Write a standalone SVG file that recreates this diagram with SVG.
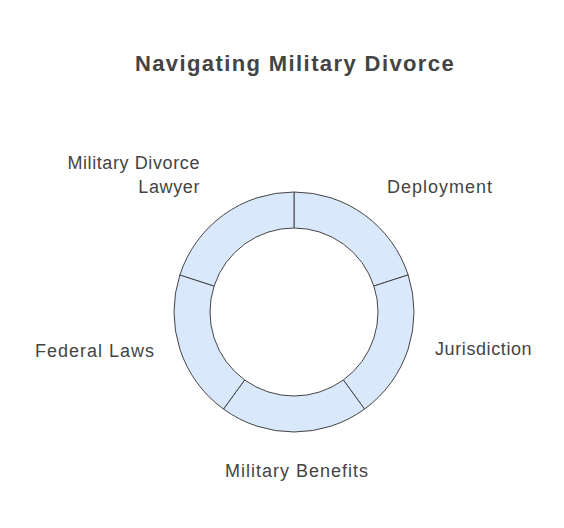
<svg xmlns="http://www.w3.org/2000/svg" width="564" height="528" viewBox="0 0 564 528">
<style>
.seg{fill:#dae8fc;stroke:#444444;stroke-width:1}
.lbl{font-family:"Liberation Sans",Arial,sans-serif;font-size:18px;letter-spacing:0.8px;fill:#444444}
.title{font-family:"Liberation Sans",Arial,sans-serif;font-size:22px;letter-spacing:1.4px;font-weight:bold;fill:#444444}
</style>
<rect width="564" height="528" fill="#ffffff"/>
<text class="title" x="295" y="71" text-anchor="middle">Navigating Military Divorce</text>
<g id="deployment">
<path class="seg" d="M294,192 A120,120 0 0 1 408.127,274.918 L373.889,286.042 A84,84 0 0 0 294,228 Z"/>
<text class="lbl" x="387" y="193" style="letter-spacing:1px">Deployment</text>
</g>
<g id="jurisdiction">
<path class="seg" d="M408.127,274.918 A120,120 0 0 1 364.534,409.082 L343.374,379.958 A84,84 0 0 0 373.889,286.042 Z"/>
<text class="lbl" x="435" y="355" style="letter-spacing:0.6px">Jurisdiction</text>
</g>
<g id="military-benefits">
<path class="seg" d="M364.534,409.082 A120,120 0 0 1 223.466,409.082 L244.626,379.958 A84,84 0 0 0 343.374,379.958 Z"/>
<text class="lbl" x="297" y="477" text-anchor="middle" style="letter-spacing:1px">Military Benefits</text>
</g>
<g id="federal-laws">
<path class="seg" d="M223.466,409.082 A120,120 0 0 1 179.873,274.918 L214.111,286.042 A84,84 0 0 0 244.626,379.958 Z"/>
<text class="lbl" x="155" y="357" text-anchor="end" style="letter-spacing:1px">Federal Laws</text>
</g>
<g id="military-divorce-lawyer">
<path class="seg" d="M179.873,274.918 A120,120 0 0 1 294,192 L294,228 A84,84 0 0 0 214.111,286.042 Z"/>
<text class="lbl" x="200" y="169" text-anchor="end" style="letter-spacing:0.6px">Military Divorce</text>
<text class="lbl" x="200" y="193" text-anchor="end" style="letter-spacing:0.6px">Lawyer</text>
</g>
<g id="connectors"/>
</svg>
